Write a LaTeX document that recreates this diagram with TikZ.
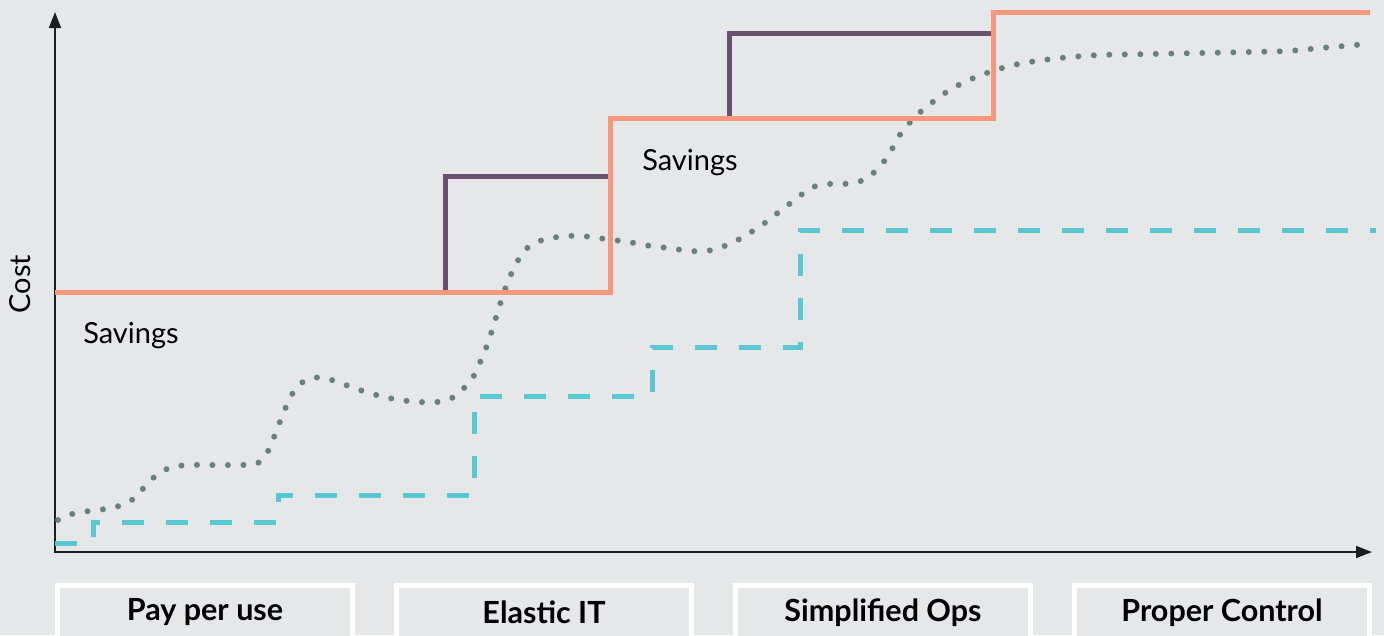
\documentclass[tikz,border=0pt]{standalone}
\usepackage{fontspec}
\setmainfont{Lato}
\usepackage{tikz}
\usetikzlibrary{arrows.meta,positioning}
\definecolor{chartbg}{RGB}{230,231,233}
\definecolor{fixedcost}{RGB}{248,152,122}
\definecolor{peakcost}{RGB}{104,80,110}
\definecolor{cloudcost}{RGB}{90,200,210}
\definecolor{demand}{RGB}{107,128,121}
\definecolor{axisline}{RGB}{30,30,30}

\begin{document}
\begin{tikzpicture}[
    x=1pt, y=-1pt,
    axis/.style={-{Triangle[length=16pt,width=12pt]}, line width=1.7pt, draw=axisline},
    stepline/.style={line width=5pt, draw=fixedcost},
    peakline/.style={line width=5pt, draw=peakcost},
    cloudline/.style={line width=5pt, draw=cloudcost, dash pattern=on 22pt off 22pt},
    dotline/.style={line width=6pt, draw=demand, line cap=round, dash pattern=on 0pt off 15.5pt},
    stagebox/.style={draw=white, line width=5pt, fill=chartbg, inner sep=0pt, outer sep=0pt,
        minimum width=295pt, minimum height=54pt, font=\fontsize{30.5}{33}\selectfont\bfseries},
    note/.style={font=\fontsize{29}{32}\selectfont}
]
    % Background and frame
    \fill[chartbg] (0,0) rectangle (1384,635);
    \clip (0,0) rectangle (1384,635);

    % Axes
    \coordinate (origin) at (55,552);
    \coordinate (ytop) at (55,12);
    \coordinate (xend) at (1372,552);
    \draw[axis] (55,553) -- (ytop);
    \draw[axis] (54,552) -- (xend);
    \node[note, rotate=90] (cost) at (20,284) {Cost};

    % Demand curve
    \draw[dotline] plot[smooth, tension=0.5] coordinates {
        (58,520) (72,514) (89,511) (105,509) (122,505) (136,497) (146,485)
        (158,474) (172,467) (190,465) (215,465) (240,465) (256,464) (264,458)
        (270,447) (276,432) (283,414) (291,396) (300,384) (312,378) (325,378)
        (340,383) (360,390) (380,396) (400,400) (420,402) (437,402) (452,398)
        (465,387) (475,374) (483,355) (488,343) (493,327) (498,311) (503,295)
        (509,279) (516,264) (525,250) (537,242) (551,238) (567,236) (582,236)
        (598,238) (613,240) (629,242) (644,245) (660,247) (675,249) (691,251)
        (706,251) (719,248) (734,242) (748,234) (762,225) (775,215) (788,205)
        (801,195) (813,187) (828,184) (843,184) (858,182) (870,176) (882,164)
        (891,151) (897,139) (906,127) (917,115) (929,105) (942,95) (955,87)
        (969,80) (984,74) (999,69) (1014,65) (1030,62) (1060,58) (1100,55)
        (1150,54) (1200,53) (1250,52) (1287,51) (1321,48) (1367,44)};

    % Cloud cost steps
    \draw[cloudline] (55,543) -- (93,543) -- (93,522) -- (278,522) -- (278,495)
        -- (474,495) -- (474,396) -- (652,396) -- (652,347) -- (800,347)
        -- (800,230) -- (1376,230);

    % Peak capacity
    \draw[peakline] (445,292) -- (445,176) -- (610,176);
    \draw[peakline] (729,118) -- (729,33) -- (993,33);

    % Fixed capacity steps
    \draw[stepline] (55,292) -- (610,292) -- (610,118) -- (993,118) -- (993,12) -- (1370,12);

    % Labels
    \node[note] (save1) at (131,336) {Savings};
    \node[note] (save2) at (690,163) {Savings};

    % Stages
    \node[stagebox] (pay) at (205,612.5) {Pay per use};
    \node[stagebox, right=44pt of pay] (elastic) {Elastic IT};
    \node[stagebox, right=44pt of elastic] (simple) {Simplified Ops};
    \node[stagebox, right=44pt of simple] (control) {Proper Control};
\end{tikzpicture}
\end{document}
